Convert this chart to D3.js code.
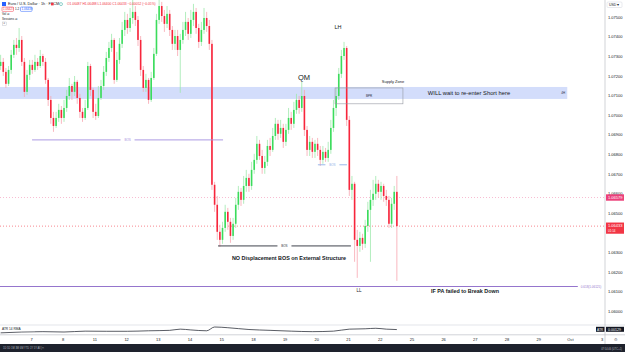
<!DOCTYPE html>
<html>
<head>
  <meta charset="utf-8">
  <title>EUR/USD 1h</title>
  <script src="https://cdn.jsdelivr.net/npm/d3@7"></script>
  <style>
    body { margin: 0; background: #fff; }
    svg { display: block; font-family: "Liberation Sans", Arial, sans-serif; }
  </style>
</head>
<body>
<script>
// Size of the page
var breite = 625;
var hoehe = 352;

// Candles, oldest first (open = previous close)
var firstOpen = 1.07250;
var closes = [1.07271,1.07220,1.07159,1.07230,1.07307,1.07358,1.07342,1.07383,1.07271,1.07118,
  1.07205,1.07256,1.07230,1.07271,1.07250,1.07301,1.07271,1.07179,1.07077,1.06985,
  1.06944,1.06985,1.07026,1.06985,1.07036,1.07097,1.07148,1.07118,1.07169,1.07087,
  1.07016,1.06985,1.07036,1.07250,1.07128,1.07016,1.06995,1.07087,1.07148,1.07220,
  1.07291,1.07342,1.07383,1.07179,1.07281,1.07363,1.07434,1.07485,1.07444,1.07495,
  1.07526,1.07485,1.07383,1.07230,1.07138,1.07179,1.07077,1.07189,1.07312,1.07485,
  1.07556,1.07505,1.07465,1.07516,1.07434,1.07363,1.07403,1.07332,1.07383,1.07434,
  1.07475,1.07414,1.07485,1.07526,1.07444,1.07373,1.07434,1.07495,1.07454,1.07363,
  1.06644,1.06542,1.06404,1.06363,1.06424,1.06506,1.06455,1.06383,1.06445,1.06542,
  1.06608,1.06567,1.06638,1.06679,1.06638,1.06720,1.06771,1.06853,1.06791,1.06730,
  1.06761,1.06842,1.06822,1.06893,1.06955,1.06904,1.06934,1.06863,1.06924,1.06985,
  1.06955,1.07026,1.07077,1.07036,1.07097,1.06924,1.06822,1.06863,1.06812,1.06853,
  1.06822,1.06771,1.06812,1.06781,1.06822,1.06934,1.07036,1.07097,1.07210,1.07301,
  1.07342,1.06975,1.06618,1.06649,1.06363,1.06332,1.06373,1.06343,1.06434,1.06516,
  1.06567,1.06598,1.06649,1.06608,1.06638,1.06587,1.06567,1.06445,1.06547,1.06608,
  1.06433];
var highs = [1.07307,1.07291,1.07240,1.07250,1.07332,1.07383,1.07393,1.07444,1.07403,1.07291,
  1.07230,1.07281,1.07281,1.07307,1.07291,1.07332,1.07312,1.07291,1.07189,1.07097,
  1.07016,1.07016,1.07057,1.07046,1.07077,1.07128,1.07189,1.07159,1.07199,1.07179,
  1.07108,1.07036,1.07077,1.07271,1.07261,1.07138,1.07057,1.07148,1.07179,1.07250,
  1.07322,1.07373,1.07414,1.07393,1.07322,1.07393,1.07475,1.07526,1.07516,1.07546,
  1.07587,1.07556,1.07505,1.07403,1.07250,1.07210,1.07189,1.07220,1.07342,1.07516,
  1.07587,1.07577,1.07536,1.07556,1.07536,1.07454,1.07434,1.07434,1.07414,1.07475,
  1.07526,1.07495,1.07536,1.07567,1.07546,1.07465,1.07475,1.07546,1.07526,1.07485,
  1.07383,1.06659,1.06587,1.06440,1.06455,1.06542,1.06526,1.06475,1.06475,1.06577,
  1.06638,1.06628,1.06689,1.06720,1.06700,1.06761,1.06802,1.06893,1.06873,1.06822,
  1.06791,1.06873,1.06883,1.06934,1.06985,1.06975,1.06975,1.06955,1.06955,1.07036,
  1.07016,1.07067,1.07108,1.07097,1.07169,1.07128,1.06944,1.06893,1.06883,1.06873,
  1.06883,1.06842,1.06842,1.06832,1.06863,1.06975,1.07077,1.07138,1.07240,1.07332,
  1.07373,1.07352,1.06995,1.06689,1.06659,1.06414,1.06404,1.06394,1.06465,1.06557,
  1.06618,1.06669,1.06689,1.06669,1.06659,1.06649,1.06618,1.06587,1.06577,1.06638,
  1.06689];
var lows = [1.07230,1.07199,1.07138,1.07148,1.07210,1.07291,1.07307,1.07322,1.07250,1.07092,
  1.07103,1.07179,1.07210,1.07220,1.07230,1.07240,1.07250,1.07159,1.07046,1.06955,
  1.06914,1.06934,1.06965,1.06955,1.06965,1.07016,1.07077,1.07077,1.07097,1.07057,
  1.06985,1.06965,1.06975,1.07026,1.07097,1.06985,1.06975,1.06985,1.07077,1.07128,
  1.07199,1.07271,1.07322,1.07159,1.07169,1.07261,1.07342,1.07403,1.07414,1.07424,
  1.07465,1.07454,1.07352,1.07199,1.07118,1.07118,1.07057,1.07067,1.07179,1.07301,
  1.07465,1.07475,1.07424,1.07444,1.07403,1.07332,1.07332,1.07301,1.07113,1.07363,
  1.07403,1.07383,1.07393,1.07454,1.07414,1.07342,1.07352,1.07414,1.07424,1.07332,
  1.06618,1.06506,1.06363,1.06327,1.06343,1.06404,1.06414,1.06348,1.06363,1.06424,
  1.06516,1.06536,1.06547,1.06608,1.06608,1.06618,1.06700,1.06751,1.06771,1.06700,
  1.06700,1.06740,1.06791,1.06812,1.06873,1.06873,1.06883,1.06832,1.06842,1.06904,
  1.06924,1.06934,1.07006,1.07006,1.07016,1.06893,1.06791,1.06791,1.06781,1.06781,
  1.06791,1.06740,1.06751,1.06761,1.06761,1.06802,1.06914,1.06995,1.07077,1.07189,
  1.07281,1.06944,1.06587,1.06567,1.06251,1.06169,1.06302,1.06312,1.06322,1.06404,
  1.06251,1.06536,1.06567,1.06577,1.06567,1.06557,1.06536,1.06424,1.06424,1.06516,
  1.06154];

// ATR (14, RMA) read at some bars
var atrBars = [0, 8, 16, 24, 32, 40, 48, 56, 64, 68, 72, 78, 81, 86, 94, 102, 110, 118, 126, 132, 138, 142, 146, 150];
var atrValues = [0.00083, 0.00095, 0.00100, 0.00095, 0.00107, 0.00105, 0.00105, 0.00112, 0.00118, 0.00135, 0.00124, 0.00112,
  0.00165, 0.00155, 0.00130, 0.00118, 0.00107, 0.00100, 0.00107, 0.00135, 0.00140, 0.00147, 0.00135, 0.00129];

// Axis labels
var priceTicks = [1.075, 1.074, 1.073, 1.072, 1.071, 1.070, 1.069, 1.068, 1.067, 1.066, 1.065, 1.064, 1.063, 1.062, 1.061, 1.060];
var dayLabels = ["7", "8", "11", "12", "13", "14", "15", "18", "19", "20", "21", "22", "25", "26", "27", "28", "29", "Oct", "3"];
var barsPerDay = 12;

// Drawings on the chart
var zoneTop = 1.07143, zoneBottom = 1.07082, zoneEnd = 215;
var boxTop = 1.07138, boxBottom = 1.07057, boxStart = 127.1, boxEnd = 152.8;
var bosLevels = [1.06873, 1.06332, 1.06746];
var bosStarts = [12.4, 82.8, 120.6];
var bosEnds = [84.7, 133.1, 131.6];
var bosColors = ["#a48ee0", "#2a2e39", "#8fb0e8"];
var fibLevel = 1.06125, fibEnd = 219;
var lastPrice = 1.06433, markPrice = 1.06579;

var svg = d3.select("body").append("svg")
  .attr("width", breite)
  .attr("height", hoehe);

svg.append("rect").attr("width", breite).attr("height", hoehe).attr("fill", "#ffffff");

// x: bar index -> pixel, y: price -> pixel
var x = d3.scaleLinear().domain([0, 19 * barsPerDay]).range([-0.7, 601.6]);
var y = d3.scaleLinear().domain([1.060, 1.075]).range([311, 17]);
var yAtr = d3.scaleLinear().domain([0.0006, 0.0020]).range([334.5, 324.5]);

var paneRight = 605;
svg.append("clipPath").attr("id", "main")
  .append("rect").attr("x", 0).attr("y", 0).attr("width", paneRight).attr("height", 325);

var chart = svg.append("g").attr("clip-path", "url(#main)");

// blue supply band
chart.append("rect")
  .attr("x", 0).attr("y", y(zoneTop))
  .attr("width", x(zoneEnd)).attr("height", y(zoneBottom) - y(zoneTop))
  .attr("fill", "#d3ddfb");
svg.append("text").attr("x", x(zoneEnd) - 6).attr("y", y((zoneTop + zoneBottom) / 2) + 1)
  .attr("font-size", 3).attr("fill", "#2a2e39").text("4H");

// price lines
chart.append("line").attr("x1", 0).attr("x2", paneRight)
  .attr("y1", y(markPrice)).attr("y2", y(markPrice))
  .attr("stroke", "#f48fb1").attr("stroke-width", 0.6).attr("stroke-dasharray", "1,2");
chart.append("line").attr("x1", 0).attr("x2", paneRight)
  .attr("y1", y(lastPrice)).attr("y2", y(lastPrice))
  .attr("stroke", "#f23645").attr("stroke-width", 0.6).attr("stroke-dasharray", "1,2");

// candles
var candles = closes.map(function(c, i) {
  return { i: i, o: i == 0 ? firstOpen : closes[i - 1], h: highs[i], l: lows[i], c: c };
});

chart.selectAll("line.wick").data(candles).enter().append("line")
  .attr("class", "wick")
  .attr("x1", function(d) { return x(d.i + 0.5); })
  .attr("x2", function(d) { return x(d.i + 0.5); })
  .attr("y1", function(d) { return y(d.h); })
  .attr("y2", function(d) { return y(d.l); })
  .attr("stroke", function(d) { return d.c >= d.o ? "#9fe8ad" : "#f7a6b0"; })
  .attr("stroke-width", 0.8);

chart.selectAll("rect.body").data(candles).enter().append("rect")
  .attr("class", "body")
  .attr("x", function(d) { return x(d.i + 0.5) - 0.8; })
  .attr("width", 1.6)
  .attr("y", function(d) { return y(Math.max(d.o, d.c)); })
  .attr("height", function(d) { return Math.max(0.8, Math.abs(y(d.o) - y(d.c))); })
  .attr("fill", function(d) { return d.c >= d.o ? "#3bdc5c" : "#f7263c"; });

// supply box
chart.append("rect")
  .attr("x", x(boxStart)).attr("y", y(boxTop))
  .attr("width", x(boxEnd) - x(boxStart)).attr("height", y(boxBottom) - y(boxTop))
  .attr("fill", "none").attr("stroke", "#9598a1").attr("stroke-width", 0.6);
svg.append("text").attr("x", (x(boxStart) + x(boxEnd)) / 2).attr("y", y((boxTop + boxBottom) / 2) + 1)
  .attr("text-anchor", "middle").attr("font-size", 3).attr("fill", "#2a2e39").text("BPR");

// BOS lines with label in the middle
bosLevels.forEach(function(lv, k) {
  var x1 = x(bosStarts[k]), x2 = x(bosEnds[k]), mid = (x1 + x2) / 2, yy = y(lv);
  chart.append("line").attr("x1", x1).attr("x2", mid - 7).attr("y1", yy).attr("y2", yy)
    .attr("stroke", bosColors[k]).attr("stroke-width", 0.9);
  chart.append("line").attr("x1", mid + 7).attr("x2", x2).attr("y1", yy).attr("y2", yy)
    .attr("stroke", bosColors[k]).attr("stroke-width", 0.9);
  svg.append("text").attr("x", mid).attr("y", yy + 1)
    .attr("text-anchor", "middle").attr("font-size", 3).attr("fill", bosColors[k]).text("BOS");
});

// fib line
chart.append("line").attr("x1", 0).attr("x2", x(fibEnd))
  .attr("y1", y(fibLevel)).attr("y2", y(fibLevel))
  .attr("stroke", "#9575cd").attr("stroke-width", 1);
svg.append("text").attr("x", x(fibEnd) + 3).attr("y", y(fibLevel) + 1)
  .attr("font-size", 3).attr("fill", "#9575cd").text("0.618(1.06125)");

// notes
var notes = [
  { t: "QM", x: 304, y: 80, s: 7.5, w: "normal", a: "middle" },
  { t: "LH", x: 338, y: 29, s: 5.5, w: "normal", a: "middle" },
  { t: "Supply Zone", x: 393, y: 82.5, s: 4, w: "normal", a: "middle" },
  { t: "WILL wait to re-enter Short here", x: 469, y: 95, s: 5.8, w: "normal", a: "middle" },
  { t: "NO Displacement BOS on External Structure", x: 289, y: 260, s: 5.4, w: "bold", a: "middle" },
  { t: "LL", x: 359, y: 292, s: 4.5, w: "normal", a: "middle" },
  { t: "IF PA failed to Break Down", x: 465, y: 293, s: 5.4, w: "bold", a: "middle" }
];
notes.forEach(function(n) {
  svg.append("text").attr("x", n.x).attr("y", n.y)
    .attr("text-anchor", n.a).attr("font-size", n.s).attr("font-weight", n.w)
    .attr("fill", "#131722").text(n.t);
});

// pane separators and right border
svg.append("line").attr("x1", 0).attr("x2", breite).attr("y1", 325).attr("y2", 325).attr("stroke", "#d1d4dc").attr("stroke-width", 0.6);
svg.append("line").attr("x1", 0).attr("x2", breite).attr("y1", 334.8).attr("y2", 334.8).attr("stroke", "#b2b5be").attr("stroke-width", 0.6);
svg.append("line").attr("x1", paneRight).attr("x2", paneRight).attr("y1", 0).attr("y2", 344).attr("stroke", "#b2b5be").attr("stroke-width", 0.6);

// price axis (the tick hidden under the last price label is left blank)
var yAxis = svg.append("g")
  .attr("transform", "translate(" + paneRight + ",0)")
  .call(d3.axisRight(y).tickValues(priceTicks)
    .tickFormat(function(d) { return Math.abs(y(d) - y(lastPrice)) < 9 ? "" : d3.format(".5f")(d); })
    .tickSize(0).tickPadding(3));
yAxis.select(".domain").remove();
yAxis.selectAll("text").attr("font-size", 4).attr("fill", "#131722").attr("font-family", "Liberation Sans, Arial, sans-serif");

// USD box
svg.append("rect").attr("x", 607).attr("y", 2).attr("width", 15).attr("height", 5.5)
  .attr("fill", "#fff").attr("stroke", "#d1d4dc").attr("stroke-width", 0.5).attr("rx", 1);
svg.append("text").attr("x", 609).attr("y", 6.2).attr("font-size", 3.5).attr("fill", "#131722").text("USD ▾");

// price boxes on the axis
svg.append("rect").attr("x", paneRight + 1).attr("y", y(markPrice) - 3.2).attr("width", 18).attr("height", 6.4).attr("fill", "#ec407a");
svg.append("text").attr("x", paneRight + 3).attr("y", y(markPrice) + 1.4).attr("font-size", 4).attr("fill", "#fff").text("1.06579");
svg.append("rect").attr("x", paneRight + 1).attr("y", y(lastPrice) - 3.6).attr("width", 18).attr("height", 11.2).attr("fill", "#f23645");
svg.append("text").attr("x", paneRight + 3).attr("y", y(lastPrice) + 1.2).attr("font-size", 4).attr("fill", "#fff").text(d3.format(".5f")(lastPrice));
svg.append("text").attr("x", paneRight + 3).attr("y", y(lastPrice) + 6.3).attr("font-size", 3).attr("fill", "#fff").text("01:14");

// ATR pane
var atrLine = d3.line()
  .x(function(d, k) { return x(atrBars[k] + 0.5); })
  .y(function(d) { return yAtr(d); })
  .curve(d3.curveMonotoneX);
svg.append("path").datum(atrValues).attr("d", atrLine)
  .attr("fill", "none").attr("stroke", "#131722").attr("stroke-width", 0.7);
svg.append("rect").attr("x", 1).attr("y", 326.8).attr("width", 34).attr("height", 4.4).attr("fill", "#fff").attr("opacity", 0.8);
svg.append("text").attr("x", 2).attr("y", 330.2).attr("font-size", 3.2).attr("fill", "#131722").text("ATR 14 RMA");
svg.append("rect").attr("x", 596).attr("y", 326.8).attr("width", 8.5).attr("height", 5).attr("fill", "#131722");
svg.append("text").attr("x", 597).attr("y", 330.5).attr("font-size", 3.2).attr("fill", "#fff").text("ATR");
svg.append("rect").attr("x", paneRight + 1).attr("y", 326.8).attr("width", 18).attr("height", 5).attr("fill", "#131722");
svg.append("text").attr("x", paneRight + 3).attr("y", 330.6).attr("font-size", 3.6).attr("fill", "#fff").text("0.00129");

// time axis
var dayTicks = dayLabels.map(function(d, k) { return (k + 1) * barsPerDay; });
var xAxis = svg.append("g")
  .attr("transform", "translate(0,336)")
  .call(d3.axisBottom(x).tickValues(dayTicks).tickFormat(function(d, k) { return dayLabels[k]; }).tickSize(0).tickPadding(2));
xAxis.select(".domain").remove();
xAxis.selectAll("text").attr("font-size", 4).attr("fill", "#131722").attr("font-family", "Liberation Sans, Arial, sans-serif");
svg.append("text").attr("x", 614).attr("y", 341).attr("font-size", 4).attr("fill", "#787b86").text("⚙");

// bottom bar
svg.append("rect").attr("x", 0).attr("y", 344).attr("width", breite).attr("height", 8).attr("fill", "#1e222d");
svg.append("text").attr("x", 3).attr("y", 349).attr("font-size", 2.6).attr("fill", "#b2b5be")
  .text("1D  5D  1M  3M  6M  YTD  1Y  5Y  All  |  ⏱");
svg.append("text").attr("x", 622).attr("y", 350).attr("text-anchor", "end").attr("font-size", 2.6).attr("fill", "#b2b5be")
  .text("07:54:46 (UTC+1)");

// legend at top left
svg.append("rect").attr("x", 2).attr("y", 2).attr("width", 4).attr("height", 4).attr("fill", "#2962ff");
svg.append("text").attr("x", 8).attr("y", 5.4).attr("font-size", 3.8).attr("fill", "#131722").text("Euro / U.S. Dollar · 1h · FXCM");
svg.append("rect").attr("x", 51).attr("y", 2.8).attr("width", 2.6).attr("height", 2.6).attr("fill", "#f23645");
svg.append("circle").attr("cx", 61).attr("cy", 4.1).attr("r", 1.5).attr("fill", "none").attr("stroke", "#26a69a").attr("stroke-width", 0.5);
svg.append("text").attr("x", 67).attr("y", 5.4).attr("font-size", 3.3).attr("fill", "#f23645")
  .text("O1.06487 H1.06488 L1.06400 C1.06433 −0.00052 (−0.05%)");
svg.append("rect").attr("x", 2).attr("y", 7).attr("width", 11.5).attr("height", 4.4).attr("fill", "#fff")
  .attr("stroke", "#f23645").attr("stroke-width", 0.5).attr("rx", 0.8);
svg.append("text").attr("x", 3).attr("y", 10.3).attr("font-size", 3).attr("fill", "#f23645").text("1.06427");
svg.append("text").attr("x", 15).attr("y", 10.3).attr("font-size", 3).attr("fill", "#131722").text("1.2");
svg.append("rect").attr("x", 20.5).attr("y", 7).attr("width", 11.5).attr("height", 4.4).attr("fill", "#fff")
  .attr("stroke", "#2962ff").attr("stroke-width", 0.5).attr("rx", 0.8);
svg.append("text").attr("x", 21.5).attr("y", 10.3).attr("font-size", 3).attr("fill", "#2962ff").text("1.06439");
svg.append("text").attr("x", 2).attr("y", 15.3).attr("font-size", 3).attr("fill", "#131722").text("Vol ⊘");
svg.append("text").attr("x", 2).attr("y", 20.3).attr("font-size", 3).attr("fill", "#131722").text("Sessions ⊘");
svg.append("rect").attr("x", 2.5).attr("y", 22).attr("width", 4).attr("height", 3.5).attr("fill", "#fff")
  .attr("stroke", "#b2b5be").attr("stroke-width", 0.4);
svg.append("text").attr("x", 3.4).attr("y", 25).attr("font-size", 3).attr("fill", "#131722").text("^");
</script>
</body>
</html>
